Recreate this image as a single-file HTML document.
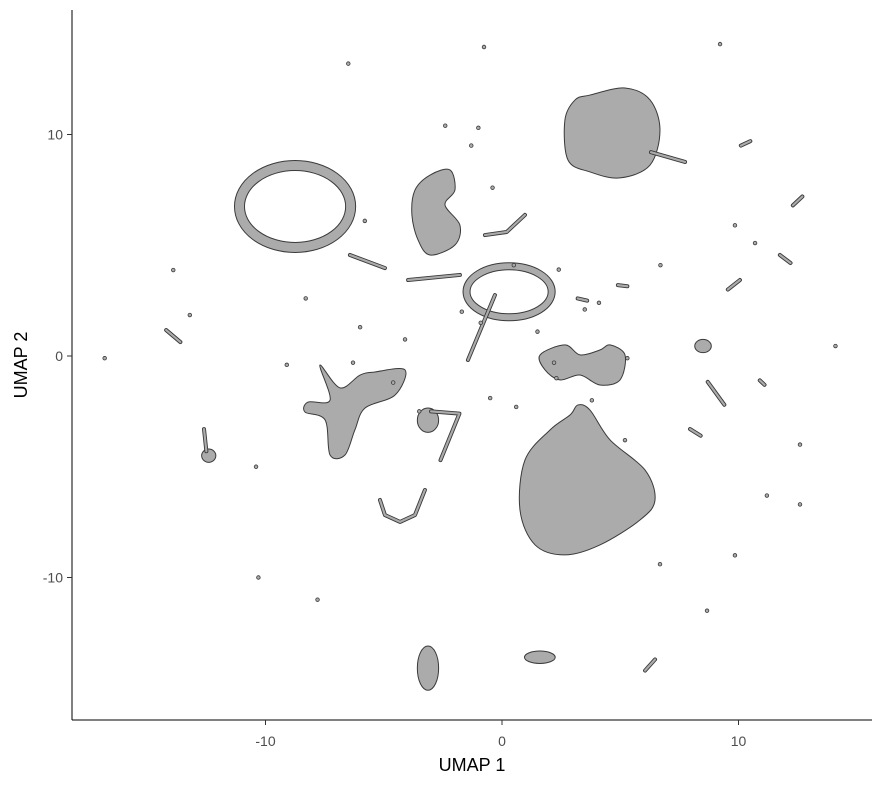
<!DOCTYPE html>
<html><head><meta charset="utf-8"><style>
html,body{margin:0;padding:0;background:#fff;}
svg{display:block;font-family:"Liberation Sans",sans-serif;}
</style></head><body>
<svg id="chart" width="883" height="786" viewBox="0 0 883 786" xmlns="http://www.w3.org/2000/svg">
<g id="marks"></g>
<g id="axes"></g>
</svg>
<script>
// ---- data (UMAP coordinates) ----
const xTicks = [-10, 0, 10];
const yTicks = [-10, 0, 10];
const xTickLabels = ["-10", "0", "10"];
const yTickLabels = ["-10", "0", "10"];
const blobBigBottom = [[3.21,-2.21],[3.72,-2.44],[4.57,-3.79],[6.05,-5.15],[6.47,-6.5],[5.84,-7.4],[4.14,-8.53],[2.66,-8.98],[1.40,-8.53],[0.76,-6.95],[0.97,-4.70],[2.03,-3.34],[2.88,-2.66]];
const blobTopRight = [[3.72,11.78],[5.2,12.1],[6.26,11.56],[6.68,10.2],[6.26,8.62],[4.99,8.04],[3.72,8.31],[2.79,8.85],[2.66,10.65],[3.09,11.56]];
const blobXShape = [[-7.70,-0.41],[-6.85,-1.44],[-6.00,-0.86],[-5.37,-0.72],[-4.10,-0.63],[-4.52,-1.76],[-5.79,-2.35],[-6.22,-3.34],[-6.64,-4.47],[-7.27,-4.47],[-7.48,-2.89],[-8.33,-2.53],[-8.20,-2.08],[-7.27,-1.99]];
const blobUpperMid = [[-3.68,7.49],[-3.04,8.17],[-2.2,8.40],[-1.99,7.49],[-2.41,6.82],[-1.78,5.91],[-1.99,5.01],[-3.04,4.56],[-3.55,5.24],[-3.81,6.37]];
const blobRightMid = [[1.61,0.05],[2.66,0.50],[3.30,0.05],[4.14,0.27],[4.57,0.50],[5.20,0.05],[4.99,-1.08],[4.14,-1.31],[3.30,-0.86],[2.45,-1.08],[1.82,-0.63]];
const ellipseClusters = [[-3.13,-14.09,0.45,1.0],[1.6,-13.6,0.65,0.28],[-3.13,-2.9,0.45,0.55],[8.5,0.45,0.35,0.3],[-12.4,-4.5,0.3,0.3]];
const rings = [[-8.75,6.75,2.35,1.85,9],[0.3,2.9,1.8,1.15,6]];
const streaks = [
 [[6.3,9.2],[7.74,8.76]],
 [[-0.3,2.75],[-1.44,-0.18]],
 [[-6.43,4.56],[-4.95,3.97]],
 [[-3.97,3.43],[-1.78,3.66]],
 [[-0.72,5.46],[0.2,5.6],[0.97,6.37]],
 [[-5.16,-6.5],[-4.95,-7.18],[-4.31,-7.49],[-3.68,-7.18],[-3.26,-6.05]],
 [[-3.0,-2.5],[-1.8,-2.6],[-2.6,-4.7]],
 [[-14.2,1.17],[-13.6,0.63]],
 [[-12.6,-3.3],[-12.5,-4.3]],
 [[10.1,9.5],[10.5,9.7]],
 [[12.3,6.8],[12.7,7.2]],
 [[11.75,4.56],[12.2,4.2]],
 [[9.55,3.0],[10.06,3.43]],
 [[8.7,-1.17],[9.4,-2.2]],
 [[10.9,-1.1],[11.1,-1.3]],
 [[7.95,-3.3],[8.4,-3.6]],
 [[6.05,-14.2],[6.47,-13.7]],
 [[3.2,2.6],[3.6,2.5]],
 [[4.9,3.2],[5.3,3.15]]
];
const pointsX = [-13.9,-13.2,-16.8,-10.3,-7.8,-6.5,-0.76,9.22,9.85,10.7,14.1,12.6,11.2,12.6,9.85,6.68,8.67,6.7,-8.3,-6.0,-4.1,-1.0,-5.8,-1.3,-0.4,0.5,2.4,3.5,4.1,5.3,-1.7,-0.9,0.6,2.3,3.8,-3.5,-4.6,-10.4,-2.4,1.5,5.2,-9.1,-6.3,-0.5,2.2];
const pointsY = [3.88,1.85,-0.1,-10.0,-11.0,13.2,13.95,14.08,5.9,5.1,0.45,-4.0,-6.3,-6.7,-9.0,-9.4,-11.5,4.1,2.6,1.3,0.75,10.3,6.1,9.5,7.6,4.1,3.9,2.1,2.4,-0.1,2.0,1.5,-2.3,-1.0,-2.0,-2.5,-1.2,-5.0,10.4,1.1,-3.8,-0.4,-0.3,-1.9,-0.3];

const X = v => 502 + v*23.65;
const Y = v => 356 - v*22.15;
const NS = "http://www.w3.org/2000/svg";
const marks = document.getElementById('marks');
const axes = document.getElementById('axes');
function mk(tag, attrs, parent){const e=document.createElementNS(NS,tag);for(const k in attrs)e.setAttribute(k,attrs[k]);parent.appendChild(e);return e;}
const FILL="#ababab", EDGE="#3a3a3a";

function smoothPath(pts){
  const P=pts.map(p=>[X(p[0]),Y(p[1])]); const n=P.length;
  let d='M'+P[0][0]+','+P[0][1];
  for(let i=0;i<n;i++){
    const p0=P[(i-1+n)%n],p1=P[i],p2=P[(i+1)%n],p3=P[(i+2)%n];
    const c1=[p1[0]+(p2[0]-p0[0])/6,p1[1]+(p2[1]-p0[1])/6];
    const c2=[p2[0]-(p3[0]-p1[0])/6,p2[1]-(p3[1]-p1[1])/6];
    d+=' C'+c1[0]+','+c1[1]+' '+c2[0]+','+c2[1]+' '+p2[0]+','+p2[1];
  }
  return d+'Z';
}
function poly(pts,name){
  const e=mk('path',{d:smoothPath(pts),fill:FILL,stroke:EDGE,'stroke-width':1,'stroke-linejoin':'round'},marks);
  
  
}
poly(blobBigBottom,'cluster-large-bottom');
poly(blobTopRight,'cluster-top-right');
poly(blobXShape,'cluster-left-middle');
poly(blobUpperMid,'cluster-upper-middle');
poly(blobRightMid,'cluster-right-middle');

ellipseClusters.forEach(c=>{
  const e=mk('ellipse',{cx:X(c[0]),cy:Y(c[1]),rx:c[2]*23.65,ry:c[3]*22.15,fill:FILL,stroke:EDGE,'stroke-width':1},marks);
  
  
});
rings.forEach(r=>{
  const a={cx:X(r[0]),cy:Y(r[1]),rx:r[2]*23.65,ry:r[3]*22.15,fill:'none'};
  const o=mk('ellipse',Object.assign({},a,{stroke:EDGE,'stroke-width':r[4]+2}),marks);
  
  
  const i=mk('ellipse',Object.assign({},a,{stroke:FILL,'stroke-width':r[4]}),marks);
  
  
});
streaks.forEach(s=>{
  const pts=s.map(p=>X(p[0])+','+Y(p[1])).join(' ');
  const o=mk('polyline',{points:pts,fill:'none',stroke:EDGE,'stroke-width':4,'stroke-linecap':'round','stroke-linejoin':'round'},marks);
  
  
  const i=mk('polyline',{points:pts,fill:'none',stroke:FILL,'stroke-width':2.2,'stroke-linecap':'round','stroke-linejoin':'round'},marks);
  
  
});
pointsX.forEach((v,k)=>{
  const e=mk('circle',{cx:X(v),cy:Y(pointsY[k]),r:1.8,fill:FILL,stroke:EDGE,'stroke-width':0.8},marks);
  
  
});

const xl=mk('line',{x1:72,y1:720,x2:872,y2:720,stroke:'#000','stroke-width':1},axes);


const yl=mk('line',{x1:72,y1:10,x2:72,y2:720,stroke:'#000','stroke-width':1},axes);


xTicks.forEach((v,k)=>{
  const t=mk('line',{x1:X(v),y1:720,x2:X(v),y2:725,stroke:'#333'},axes);
  
  
  const l=mk('text',{x:X(v),y:746,'text-anchor':'middle','font-size':14,fill:'#4d4d4d'},axes);
  l.textContent=xTickLabels[k];
  
  
});
yTicks.forEach((v,k)=>{
  const t=mk('line',{x1:67,y1:Y(v),x2:72,y2:Y(v),stroke:'#333'},axes);
  
  
  const l=mk('text',{x:63,y:Y(v)+5,'text-anchor':'end','font-size':14,fill:'#4d4d4d'},axes);
  l.textContent=yTickLabels[k];
  
  
});
const xt=mk('text',{x:472,y:771,'text-anchor':'middle','font-size':18,fill:'#000'},axes);
xt.textContent='UMAP 1';


const yt=mk('text',{x:0,y:0,'text-anchor':'middle','font-size':18,fill:'#000',transform:'translate(27,365) rotate(-90)'},axes);
yt.textContent='UMAP 2';


</script>
</body></html>
